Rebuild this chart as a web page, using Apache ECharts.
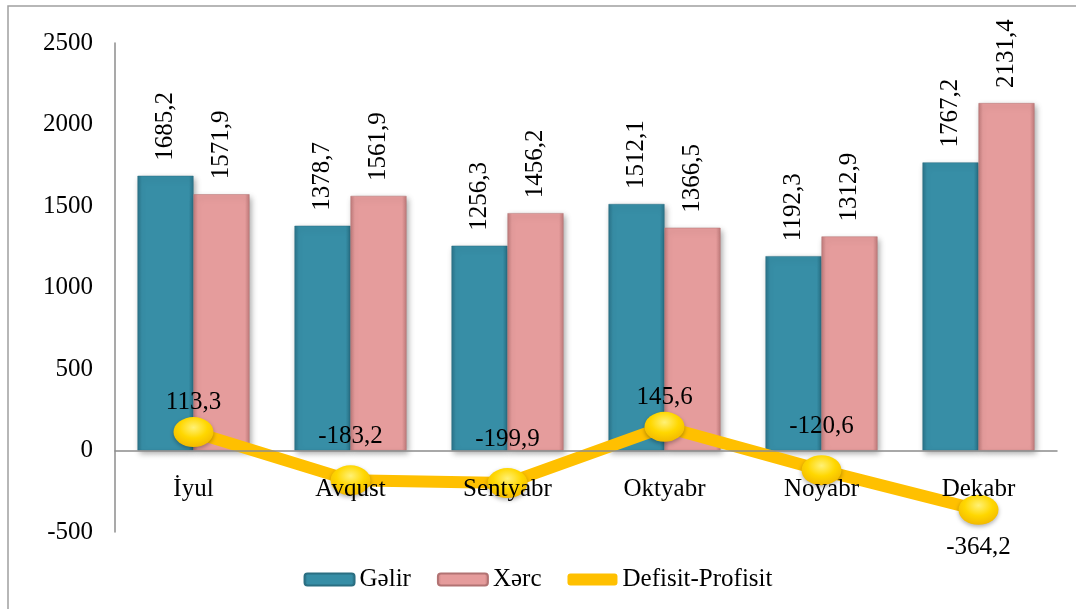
<!DOCTYPE html>
<html>
<head>
<meta charset="utf-8">
<script src="https://cdn.jsdelivr.net/npm/echarts@6/dist/echarts.min.js"></script>
<style>
  html, body { margin: 0; padding: 0; background: #fff; }
  #chart { width: 1076px; height: 609px; }
</style>
</head>
<body>
<div id="chart"></div>
<script>
var months = ["İyul", "Avqust", "Sentyabr", "Oktyabr", "Noyabr", "Dekabr"];
var gelir = [1685.2, 1378.7, 1256.3, 1512.1, 1192.3, 1767.2];
var xerc = [1571.9, 1561.9, 1456.2, 1366.5, 1312.9, 2131.4];
var defisit = [113.3, -183.2, -199.9, 145.6, -120.6, -364.2];
var yTicks = [-500, 0, 500, 1000, 1500, 2000, 2500];

var font = "'Liberation Serif', 'DejaVu Serif', 'Times New Roman', serif";

function comma(v) {
    return v.toFixed(1).replace(".", ",");
}

// bevelled bar look
function bevel(dark, mid) {
    return new echarts.graphic.LinearGradient(0, 0, 1, 0, [
        { offset: 0, color: dark },
        { offset: 0.08, color: mid },
        { offset: 0.92, color: mid },
        { offset: 1, color: dark }
    ]);
}

function barLabel() {
    return {
        show: true,
        position: 'top',
        rotate: 90,
        align: 'left',
        verticalAlign: 'middle',
        distance: 15,
        fontFamily: font,
        fontSize: 25,
        color: '#000',
        formatter: function (p) { return comma(p.value); }
    };
}

var chart = echarts.init(document.getElementById('chart'));

var option = {
    backgroundColor: '#fff',
    animation: false,
    textStyle: { fontFamily: font },
    graphic: [{
        type: 'rect',
        shape: { x: 8, y: 6, width: 1200, height: 800 },
        style: { fill: 'none', stroke: '#a0a0a0', lineWidth: 1.5 },
        silent: true
    }],
    grid: { left: 115, right: 19, top: 43, bottom: 77 },
    legend: {
        top: 562,
        left: 'center',
        itemWidth: 50,
        itemHeight: 12,
        itemGap: 26,
        textStyle: { fontFamily: font, fontSize: 25, color: '#000' },
        data: [
            { name: 'Gəlir' },
            { name: 'Xərc' },
            { name: 'Defisit-Profisit', icon: 'roundRect', itemStyle: { color: '#ffc000' } }
        ]
    },
    xAxis: {
        type: 'category',
        data: months,
        z: 10,
        axisLine: { onZero: true, lineStyle: { color: '#8c8c8c', width: 1.5 } },
        axisTick: { show: false },
        axisLabel: { fontFamily: font, fontSize: 25, color: '#000', margin: -55 }
    },
    yAxis: {
        type: 'value',
        min: yTicks[0],
        max: yTicks[yTicks.length - 1],
        interval: 500,
        axisLine: { show: true, lineStyle: { color: '#8c8c8c', width: 1.5 } },
        axisTick: { show: false },
        splitLine: { show: false },
        axisLabel: {
            fontFamily: font, fontSize: 25, color: '#000', margin: 22,
            formatter: function (v) { return String(v); }
        }
    },
    series: [{
        name: 'Gəlir',
        type: 'bar',
        data: gelir,
        barWidth: 56,
        barGap: '0%',
        itemStyle: {
            color: bevel('#2a7389', '#378ea6'),
            borderColor: '#2b6f82',
            borderWidth: 0.5,
            shadowColor: 'rgba(0,0,0,0.35)',
            shadowBlur: 6,
            shadowOffsetX: 2,
            shadowOffsetY: 3
        },
        label: barLabel()
    }, {
        name: 'Xərc',
        type: 'bar',
        data: xerc,
        barWidth: 56,
        barGap: '0%',
        itemStyle: {
            color: bevel('#c07b7b', '#e59c9c'),
            borderColor: '#b27373',
            borderWidth: 0.5,
            shadowColor: 'rgba(0,0,0,0.35)',
            shadowBlur: 6,
            shadowOffsetX: 2,
            shadowOffsetY: 3
        },
        label: barLabel()
    }, {
        name: 'Defisit-Profisit',
        type: 'line',
        data: defisit.map(function (v, i) {
            var last = i === defisit.length - 1;
            return {
                value: v,
                label: {
                    position: last ? 'bottom' : 'top',
                    distance: last ? 10 : (v < 0 ? 16 : 2)
                }
            };
        }),
        symbol: 'circle',
        symbolSize: [40, 30],
        lineStyle: { color: '#ffc000', width: 12 },
        itemStyle: {
            color: new echarts.graphic.RadialGradient(0.5, 0.35, 0.7, [
                { offset: 0, color: '#fff176' },
                { offset: 0.5, color: '#ffd700' },
                { offset: 1, color: '#f0b400' }
            ]),
            shadowColor: 'rgba(0,0,0,0.3)',
            shadowBlur: 4,
            shadowOffsetY: 2
        },
        label: {
            show: true,
            fontFamily: font,
            fontSize: 25,
            color: '#000',
            formatter: function (p) { return comma(p.value); }
        },
        z: 5
    }]
};

chart.setOption(option);
</script>
</body>
</html>
